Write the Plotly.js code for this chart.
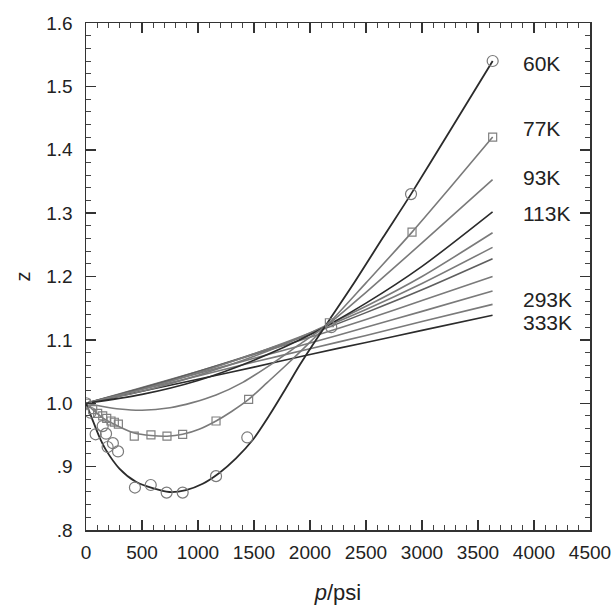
<!DOCTYPE html>
<html>
<head>
<meta charset="utf-8">
<script src="https://cdn.plot.ly/plotly-3.0.1.min.js"></script>
<style>html,body{margin:0;padding:0;background:#fff;}#chart{width:616px;height:614px;}</style>
</head>
<body>
<div id="chart"></div>
<script>
// ---- data ----
// 60K curve and circle markers
const p60 = [0, 60, 119, 179, 298, 446, 595, 744, 893, 1042, 1190, 1339, 1488, 1637, 1786, 1911, 2050, 2179, 2387, 2650, 2902, 3250, 3631];
const z60 = [1.000, 0.973, 0.947, 0.926, 0.897, 0.876, 0.866, 0.860, 0.863, 0.873, 0.890, 0.913, 0.942, 0.981, 1.024, 1.061, 1.099, 1.133, 1.188, 1.261, 1.330, 1.430, 1.540];
const p60pts = [0, 40, 86, 149, 179, 193, 240, 286, 437, 578, 720, 863, 1161, 1440, 2190, 2902, 3631];
const z60pts = [1.000, 0.985, 0.951, 0.964, 0.952, 0.931, 0.937, 0.924, 0.867, 0.871, 0.859, 0.859, 0.885, 0.946, 1.120, 1.330, 1.540];
// 77K curve and square markers
const p77 = [0, 60, 149, 298, 431, 580, 723, 863, 1010, 1161, 1300, 1452, 1620, 1786, 1980, 2173, 2500, 2911, 3250, 3631];
const z77 = [1.000, 0.990, 0.977, 0.963, 0.953, 0.949, 0.948, 0.951, 0.959, 0.972, 0.987, 1.006, 1.033, 1.060, 1.093, 1.127, 1.190, 1.270, 1.340, 1.420];
const p77pts = [0, 60, 104, 149, 185, 223, 253, 289, 431, 580, 723, 863, 1161, 1452, 2173, 2911, 3631];
const z77pts = [1.000, 0.990, 0.984, 0.980, 0.976, 0.972, 0.970, 0.967, 0.948, 0.950, 0.948, 0.951, 0.972, 1.006, 1.127, 1.270, 1.420];
// 93K curve
const p93 = [0, 150, 300, 500, 750, 950, 1161, 1400, 1650, 1900, 2180, 2500, 3000, 3630];
const z93 = [1.000, 0.995, 0.991, 0.989, 0.993, 1.001, 1.013, 1.033, 1.061, 1.092, 1.127, 1.175, 1.253, 1.353];
// higher-temperature curves (113K ... 333K)
const pFan = [0, 500, 1000, 1500, 2000, 2500, 3000, 3630];
const z113 = [1.000, 1.014, 1.036, 1.068, 1.108, 1.158, 1.216, 1.302];
const zL5  = [1.000, 1.019, 1.044, 1.074, 1.111, 1.153, 1.200, 1.269];
const zL6  = [1.000, 1.022, 1.048, 1.078, 1.111, 1.148, 1.189, 1.246];
const zL7  = [1.000, 1.024, 1.050, 1.078, 1.109, 1.143, 1.179, 1.228];
const zL8  = [1.000, 1.025, 1.050, 1.077, 1.104, 1.132, 1.162, 1.200];
const zL9  = [1.000, 1.023, 1.047, 1.071, 1.095, 1.120, 1.145, 1.177];
const z293 = [1.000, 1.022, 1.043, 1.065, 1.086, 1.107, 1.129, 1.156];
const z333 = [1.000, 1.019, 1.038, 1.057, 1.077, 1.096, 1.115, 1.139];
// labels
const labelText = ['60K', '77K', '93K', '113K', '293K', '333K'];
const labelZ = [1.536, 1.434, 1.357, 1.300, 1.163, 1.128];
const xTicks = [0, 500, 1000, 1500, 2000, 2500, 3000, 3500, 4000, 4500];
const yTicks = [0.8, 0.9, 1.0, 1.1, 1.2, 1.3, 1.4, 1.5, 1.6];
const yTickText = ['.8', '.9', '1.0', '1.1', '1.2', '1.3', '1.4', '1.5', '1.6'];

// ---- styling ----
const DARK = '#2b2b2b', GRAY = '#7a7a7a', MGRAY = '#5e5e5e';
function line(x, y, color, w) {
  return {x: x, y: y, type: 'scatter', mode: 'lines', line: {color: color, width: w || 1.6, shape: 'spline', smoothing: 0.8}, hoverinfo: 'skip', showlegend: false};
}
const traces = [
  line(pFan, z333, DARK),
  line(pFan, z293, GRAY),
  line(pFan, zL9, GRAY),
  line(pFan, zL8, GRAY),
  line(pFan, zL7, MGRAY),
  line(pFan, zL6, GRAY),
  line(pFan, zL5, GRAY),
  line(pFan, z113, DARK),
  line(p93, z93, GRAY),
  line(p77, z77, GRAY),
  line(p60, z60, DARK, 1.8),
  {x: p77pts, y: z77pts, type: 'scatter', mode: 'markers', marker: {symbol: 'square-open', size: 8, color: '#808080', line: {width: 1.2}}, showlegend: false},
  {x: p60pts, y: z60pts, type: 'scatter', mode: 'markers', marker: {symbol: 'circle-open', size: 11, color: '#7a7a7a', line: {width: 1.2}}, showlegend: false}
];

const FONT = 'Liberation Sans, Arial, Helvetica, sans-serif';
const annotations = labelText.map((t, i) => ({
  x: 3880, y: labelZ[i], xref: 'x', yref: 'y', text: t, showarrow: false,
  xanchor: 'left', yanchor: 'middle', font: {family: FONT, size: 21, color: '#222'}
}));

const axisCommon = {
  showgrid: false, zeroline: false, showline: true, linecolor: '#333', linewidth: 1.5,
  mirror: 'allticks', ticks: 'inside', ticklen: 10, tickwidth: 1.5, tickcolor: '#333',
  tickfont: {family: FONT, size: 19, color: '#222'}
};

const layout = {
  width: 616, height: 614,
  margin: {l: 86, r: 26, t: 23, b: 84},
  paper_bgcolor: '#fff', plot_bgcolor: '#fff',
  font: {family: FONT, color: '#222'},
  xaxis: Object.assign({}, axisCommon, {
    range: [0, 4500], tickvals: xTicks, ticktext: xTicks.map(String),
    minor: {ticks: 'inside', dtick: 100, ticklen: 5, tickwidth: 1, tickcolor: '#444', showgrid: false},
    ticklabelstandoff: 5,
    title: {text: '<i>p</i>/psi', font: {family: FONT, size: 22, color: '#222'}, standoff: 22}
  }),
  yaxis: Object.assign({}, axisCommon, {
    range: [0.8, 1.6], tickvals: yTicks, ticktext: yTickText,
    minor: {ticks: 'inside', dtick: 0.02, ticklen: 5, tickwidth: 1, tickcolor: '#444', showgrid: false},
    ticklabelstandoff: 8,
    title: {text: 'z', font: {family: FONT, size: 20, color: '#222'}, standoff: 10}
  }),
  annotations: annotations
};

Plotly.newPlot('chart', traces, layout, {displayModeBar: false, staticPlot: true});
</script>
</body>
</html>
